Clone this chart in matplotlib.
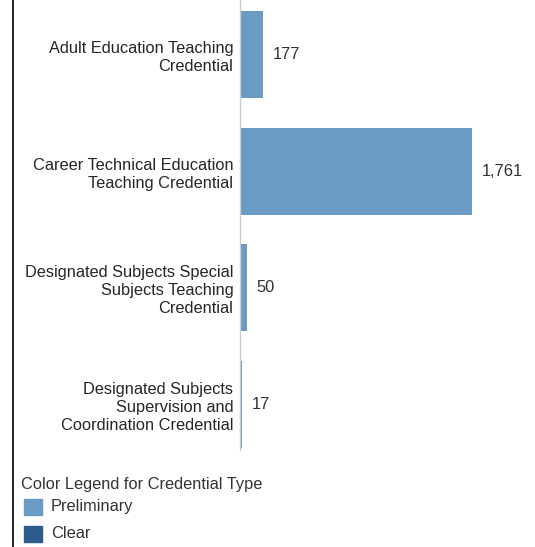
import matplotlib
matplotlib.use("Agg")
import matplotlib.pyplot as plt
from matplotlib.patches import Rectangle
from matplotlib.lines import Line2D

categories = [
    "Adult Education Teaching\nCredential",
    "Career Technical Education\nTeaching Credential",
    "Designated Subjects Special\nSubjects Teaching\nCredential",
    "Designated Subjects\nSupervision and\nCoordination Credential",
]
values = [177, 1761, 50, 17]
legend_title = "Color Legend for Credential Type"
legend_labels = ["Preliminary", "Clear"]
legend_colors = ["#6a9bc4", "#2d5b8b"]

W, H = 535, 547
fig = plt.figure(figsize=(W / 100, H / 100), dpi=100)
plt.rcParams['font.family'] = ['Liberation Sans', 'DejaVu Sans']
FS = 11.8

ax_left, ax_right = 240, 520
ax_top, ax_bot = 0, 450
ax = fig.add_axes([ax_left / W, 1 - ax_bot / H, (ax_right - ax_left) / W, (ax_bot - ax_top) / H])

ypos = list(range(len(values)))
ax.barh(ypos, values, height=0.745, color=legend_colors[0])
xmax = 1761 * (ax_right - ax_left) / 232
ax.set_xlim(0, xmax)
ax.set_ylim(3.39, -0.467)
ax.set_yticks(ypos)
ax.set_yticklabels(categories, fontsize=FS, color="#262626", ha="right", linespacing=1.25)
ax.tick_params(axis="y", length=0, pad=4.8)
ax.set_xticks([])
for s in ["top", "right", "bottom"]:
    ax.spines[s].set_visible(False)
ax.spines["left"].set_color("#cccccc")
ax.spines["left"].set_linewidth(1)

for y, v in zip(ypos, values):
    ax.annotate(f"{v:,}", xy=(v, y), xytext=(7, 0), textcoords="offset points",
                va="center", ha="left", fontsize=FS, color="#333333")

# left black border
fig.add_artist(Line2D([12.5 / W, 12.5 / W], [0, 1], color="black", linewidth=1.2, transform=fig.transFigure))

# legend
fig.text(21 / W, 1 - 485 / H, legend_title, fontsize=FS, color="#333333", va="center", ha="left")
rows = [507, 534]
for lab, col, yc in zip(legend_labels, legend_colors, rows):
    fig.add_artist(Rectangle((24 / W, 1 - (yc + 8) / H), 18 / W, 16 / H, color=col, transform=fig.transFigure))
    fig.text(51 / W, 1 - yc / H, lab, fontsize=FS, color="#333333", va="center", ha="left")

fig.savefig("out.png", dpi=100)
